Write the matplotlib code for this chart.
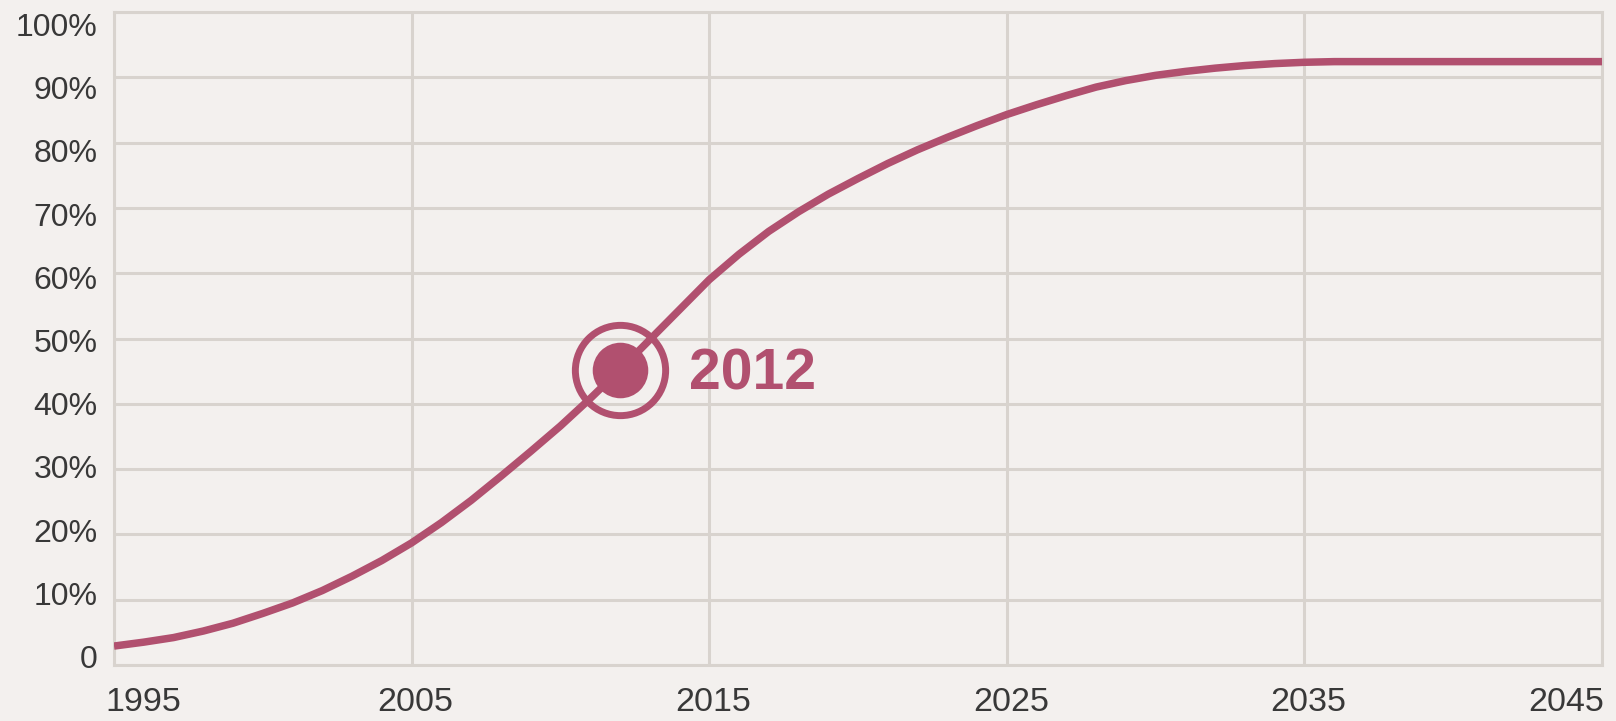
import matplotlib
matplotlib.use("Agg")
import matplotlib.pyplot as plt
from matplotlib.transforms import ScaledTranslation

# ---- data ----
years = [1995, 1996, 1997, 1998, 1999, 2000, 2001, 2002, 2003, 2004,
         2005, 2006, 2007, 2008, 2009, 2010, 2011, 2012, 2013, 2014,
         2015, 2016, 2017, 2018, 2019, 2020, 2021, 2022, 2023, 2024,
         2025, 2026, 2027, 2028, 2029, 2030, 2031, 2032, 2033, 2034,
         2035, 2036, 2037, 2038, 2039, 2040, 2041, 2042, 2043, 2044, 2045]
share = [2.9, 3.5, 4.2, 5.2, 6.4, 7.9, 9.5, 11.4, 13.6, 16.0,
         18.7, 21.8, 25.2, 28.9, 32.7, 36.6, 40.8, 45.2, 49.8, 54.4,
         59.0, 62.9, 66.4, 69.4, 72.1, 74.5, 76.8, 78.9, 80.8, 82.6,
         84.3, 85.8, 87.2, 88.5, 89.5, 90.3, 90.9, 91.4, 91.8, 92.1,
         92.3, 92.4, 92.4, 92.4, 92.4, 92.4, 92.4, 92.4, 92.4, 92.4, 92.4]
highlight_year = 2012
highlight_value = 45.2
highlight_label = "2012"
xtick_years = [1995, 2005, 2015, 2025, 2035, 2045]
ytick_values = [0, 10, 20, 30, 40, 50, 60, 70, 80, 90, 100]
ytick_labels = ["0", "10%", "20%", "30%", "40%", "50%", "60%", "70%", "80%", "90%", "100%"]

# ---- style ----
BG = "#f3f0ee"
GRID = "#d8d3ce"
LINE = "#b1506f"
TXT = "#383838"
plt.rcParams['font.family'] = ['Liberation Sans', 'DejaVu Sans']

W, H, DPI = 1616, 721, 100
fig = plt.figure(figsize=(W / DPI, H / DPI), dpi=DPI, facecolor=BG)
ax = fig.add_axes([114 / W, 1 - 665 / H, (1602 - 114) / W, (665 - 12) / H])
ax.set_facecolor(BG)

ax.plot(years, share, color=LINE, lw=5.4, solid_capstyle='butt',
        solid_joinstyle='round', zorder=3)
ax.plot([highlight_year], [highlight_value], 'o', ms=65, mfc='none',
        mec=LINE, mew=5, zorder=4)
ax.plot([highlight_year], [highlight_value], 'o', ms=40, mfc=LINE,
        mec='none', zorder=5)
ax.annotate(highlight_label, (highlight_year, highlight_value),
            xytext=(50, -14.5), textcoords='offset points',
            ha='left', va='baseline', fontsize=41, fontweight='bold',
            color=LINE, zorder=6)

ax.set_xlim(xtick_years[0], xtick_years[-1])
ax.set_ylim(0, 100)

# vertical grid at the year ticks (major x ticks)
ax.set_xticks(xtick_years)
ax.set_xticklabels([str(y) for y in xtick_years])
ax.grid(True, which='major', axis='x', color=GRID, lw=2.2, zorder=1)

# horizontal grid at round values (minor y ticks); labels on major y ticks
ax.set_yticks(ytick_values, minor=True)
ax.grid(True, which='minor', axis='y', color=GRID, lw=2.2, zorder=1)
ax.tick_params(which='minor', length=0)
ylabel_pos = [1.3 + v * 0.968 for v in ytick_values]
ax.set_yticks(ylabel_pos)
ax.set_yticklabels(ytick_labels)
ax.yaxis.grid(False, which='major')

ax.tick_params(which='major', length=0, labelcolor=TXT)
ax.tick_params(axis='y', pad=12, labelsize=23)
ax.tick_params(axis='x', pad=16, labelsize=24.5)

for lab in ax.get_xticklabels():
    lab.set_transform(lab.get_transform() + ScaledTranslation(4 / DPI, 0, fig.dpi_scale_trans))
xl = ax.get_xticklabels()
xl[0].set_ha('left')
xl[0].set_transform(ax.get_xaxis_transform() + ScaledTranslation(-9 / DPI, -16 / 72, fig.dpi_scale_trans))
xl[-1].set_ha('right')
xl[-1].set_transform(ax.get_xaxis_transform() + ScaledTranslation(2 / DPI, -16 / 72, fig.dpi_scale_trans))

for s in ax.spines.values():
    s.set_color(GRID)
    s.set_linewidth(2.2)
    s.set_zorder(1)

fig.savefig("out.png", dpi=DPI, facecolor=BG)
